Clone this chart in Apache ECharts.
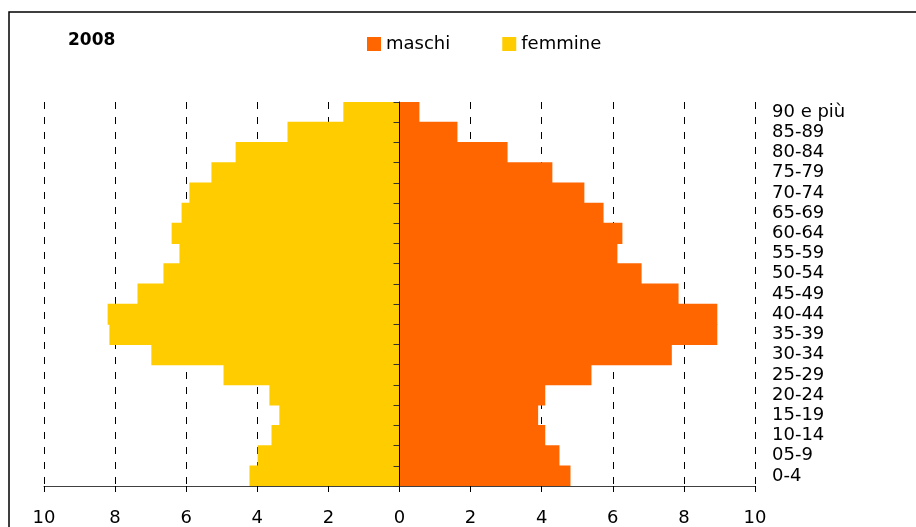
<!DOCTYPE html>
<html>
<head>
<meta charset="utf-8">
<script src="https://cdn.jsdelivr.net/npm/echarts@6/dist/echarts.min.js"></script>
<style>
  html, body { margin: 0; padding: 0; background: #fff; }
  #chart { width: 916px; height: 527px; }
</style>
</head>
<body>
<div id="chart"></div>
<script>
// age classes, bottom to top
var classi = ['0-4', '05-9', '10-14', '15-19', '20-24', '25-29', '30-34', '35-39', '40-44',
  '45-49', '50-54', '55-59', '60-64', '65-69', '70-74', '75-79', '80-84', '85-89', '90 e più'];
// percentages
var maschi = [4.81, 4.50, 4.10, 3.90, 4.10, 5.40, 7.66, 8.94, 8.94,
  7.85, 6.81, 6.13, 6.27, 5.74, 5.20, 4.30, 3.04, 1.63, 0.56];
var femmine = [4.22, 3.99, 3.60, 3.38, 3.66, 4.95, 6.98, 8.16, 8.21,
  7.37, 6.64, 6.19, 6.41, 6.13, 5.91, 5.29, 4.61, 3.15, 1.58];
var anno = '2008';

var font = 'DejaVu Sans';
var chart = echarts.init(document.getElementById('chart'));

chart.setOption({
  animation: false,
  textStyle: { fontFamily: font, color: '#000' },
  title: {
    text: anno,
    left: 63,
    top: 27,
    textStyle: { fontFamily: font, fontSize: 17, fontWeight: 'bold', color: '#000' }
  },
  legend: {
    data: ['maschi', 'femmine'],
    left: 362,
    top: 30,
    icon: 'rect',
    itemWidth: 14,
    itemHeight: 14,
    itemGap: 52,
    textStyle: { fontFamily: font, fontSize: 18, color: '#000' }
  },
  graphic: [{
    type: 'rect',
    shape: { x: 9, y: 12, width: 1200, height: 1000 },
    style: { fill: 'none', stroke: '#000', lineWidth: 1.5 },
    silent: true
  }],
  grid: { left: 44, right: 161, top: 102, bottom: 41, containLabel: false },
  xAxis: {
    type: 'value',
    min: -10,
    max: 10,
    interval: 2,
    axisLine: { show: true, lineStyle: { color: '#404040', width: 1 } },
    axisTick: { show: true, length: 6, lineStyle: { color: '#000' } },
    axisLabel: {
      fontFamily: font, fontSize: 18, color: '#000', margin: 23,
      formatter: function (v) { return Math.abs(v); }
    },
    splitLine: { show: true, lineStyle: { color: '#000', type: [7, 8], width: 1 } }
  },
  yAxis: [{
    type: 'category',
    data: classi,
    position: 'left',
    axisLine: { show: true, onZero: true, lineStyle: { color: '#000', width: 1 } },
    axisTick: { show: true, length: 6, lineStyle: { color: '#333' } },
    axisLabel: { show: false },
    splitLine: { show: false },
    z: 5
  }, {
    type: 'category',
    data: classi,
    position: 'right',
    axisLine: { show: false, onZero: false },
    axisTick: { show: false },
    axisLabel: { interval: 0, fontFamily: font, fontSize: 18, lineHeight: 18, color: '#000', margin: 17 },
    splitLine: { show: false }
  }],
  series: [{
    name: 'maschi',
    type: 'bar',
    stack: 'tot',
    yAxisIndex: 0,
    barWidth: '104%',
    itemStyle: { color: '#FF6600' },
    data: maschi
  }, {
    name: 'femmine',
    type: 'bar',
    stack: 'tot',
    yAxisIndex: 0,
    barWidth: '104%',
    itemStyle: { color: '#FFCC00' },
    data: femmine.map(function (v) { return -v; })
  }]
});
</script>
</body>
</html>
